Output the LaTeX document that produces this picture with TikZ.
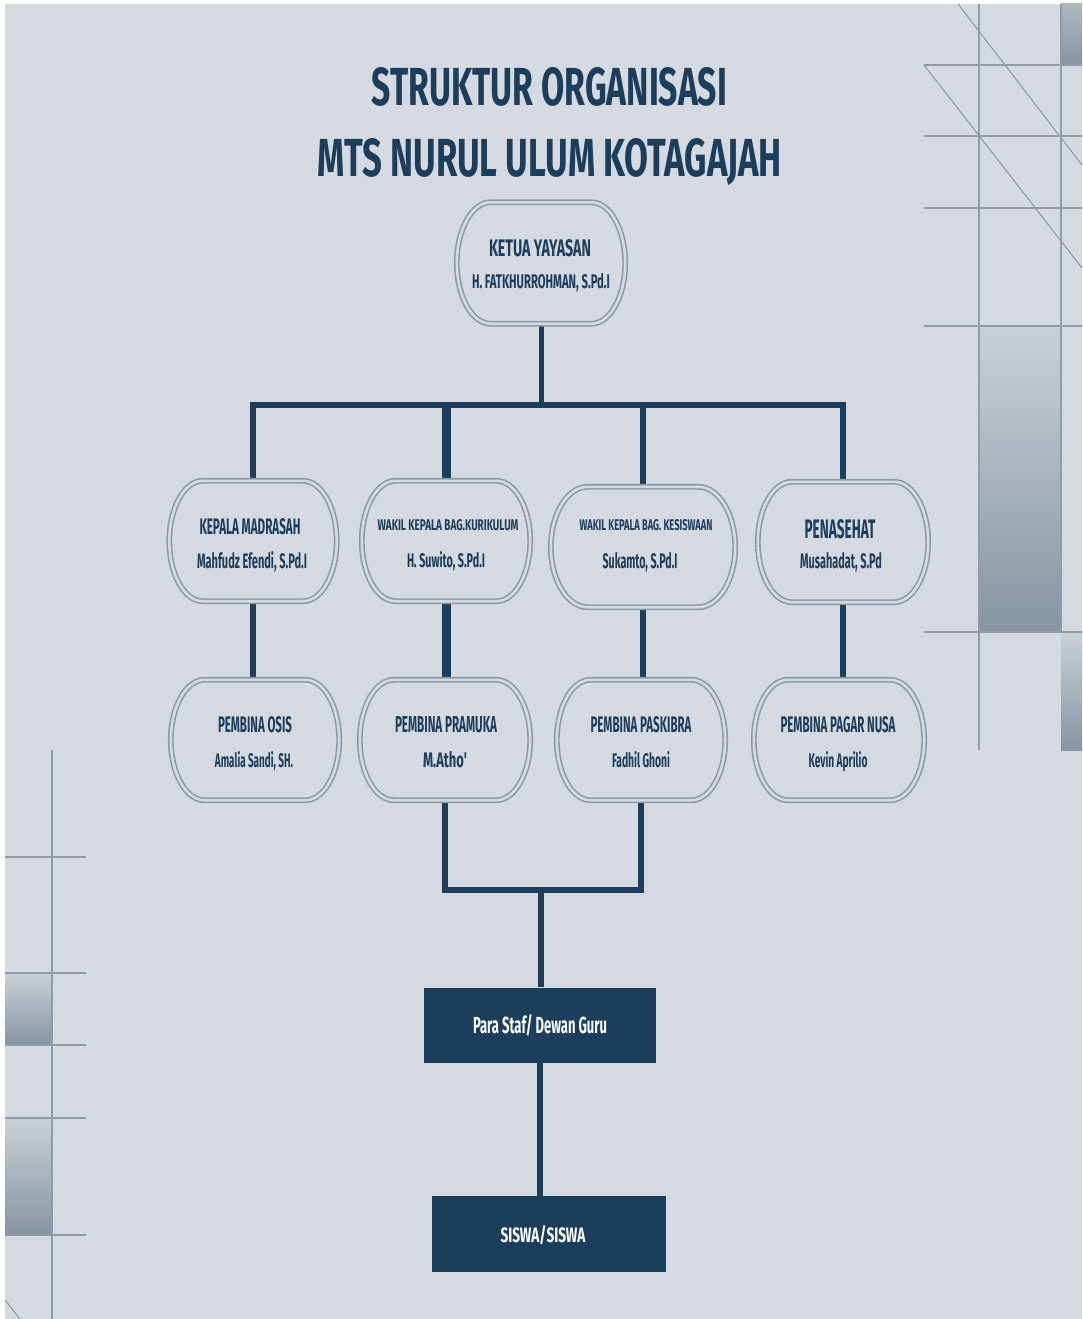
\documentclass[tikz,border=0pt]{standalone}
\usepackage{fontspec}
\setmainfont{Fira Sans}
\usetikzlibrary{calc}
\definecolor{bgc}{HTML}{D5DAE0}
\definecolor{navy}{HTML}{1B3E5D}
\definecolor{outc}{HTML}{8A9AA6}
\definecolor{decc}{HTML}{8F9CA7}
\definecolor{gradtop}{HTML}{CAD0D7}
\definecolor{gradbot}{HTML}{8595A2}
\newcommand\fitx[3]{\resizebox{#1pt}{#2pt}{\bfseries #3}}
\newcommand\stad[1]{%
  \filldraw[outl] ($(#1.north west)!0.2!(#1.north east)$) -- ($(#1.north west)!0.8!(#1.north east)$)
   .. controls ($(#1.north west)!0.91!(#1.north east)$) and ($(#1.east)!0.552!(#1.north east)$) .. (#1.east)
   .. controls ($(#1.east)!0.552!(#1.south east)$) and ($(#1.south west)!0.91!(#1.south east)$) .. ($(#1.south west)!0.8!(#1.south east)$)
   -- ($(#1.south west)!0.2!(#1.south east)$)
   .. controls ($(#1.south west)!0.09!(#1.south east)$) and ($(#1.west)!0.552!(#1.south west)$) .. (#1.west)
   .. controls ($(#1.west)!0.552!(#1.north west)$) and ($(#1.north west)!0.09!(#1.north east)$) .. cycle;}
\begin{document}
\begin{tikzpicture}[x=1pt,y=-1pt,
  box/.style={inner sep=0pt, draw=none, minimum height=120pt},
  outl/.style={draw=outc, line width=1.6pt, double=bgc, double distance=2.6pt, fill=bgc},
  conn/.style={draw=navy, line width=6pt},
  thickconn/.style={draw=navy, line width=9pt},
  txt/.style={inner sep=0pt, anchor=base, text=navy},
  wtxt/.style={inner sep=0pt, anchor=base, text=white},
  solid box/.style={inner sep=0pt, fill=navy, draw=none},
  dec/.style={draw=decc, line width=1.1pt},
  dech/.style={draw=decc, line width=2pt}]
\useasboundingbox (0,0) rectangle (1082,1319);
\fill[white] (0,0) rectangle (1082,1319);
\fill[bgc] (5,4) rectangle (1082,1319);
% decorations top right
\shade[top color=gradtop!60!gradbot, bottom color=gradbot] (1061,4) rectangle (1082,65);
\shade[top color=gradtop, bottom color=gradbot] (979,326) rectangle (1061,632);
\shade[top color=gradtop, bottom color=gradbot] (1061,632) rectangle (1082,750);
\draw[dec] (979,4) -- (979,750);
\draw[dec] (1061,4) -- (1061,632);
\foreach \yy in {65,136,208,326,632} \draw[dech] (924,\yy) -- (1082,\yy);
\draw[dec] (958,4) -- (1082,165);
\draw[dec] (924,65) -- (1082,268);
% decorations bottom left
\shade[top color=gradtop, bottom color=gradbot] (5,973) rectangle (52,1045);
\shade[top color=gradtop, bottom color=gradbot] (5,1118) rectangle (52,1235);
\draw[dec] (52,750) -- (52,1319);
\foreach \yy in {857,973,1045,1118,1235} \draw[dech] (5,\yy) -- (86,\yy);
\draw[dec] (5,1300) -- (20,1319);
% title
\node[txt] (t1) at (549.5,106) {\fitx{355}{38}{STRUKTUR ORGANISASI}};
\node[txt] (t2) at (550,176) {\fitx{464}{38}{MTS NURUL ULUM KOTAGAJAH}};
% shape nodes
\node[box, minimum width=168pt, minimum height=121pt] (top) at (541,263) {};
\node[box, minimum width=167pt] (A) at (253,541) {};
\node[box, minimum width=168pt] (B) at (446,541) {};
\node[box, minimum width=184pt] (C) at (643,547) {};
\node[box, minimum width=170pt] (D) at (843,542) {};
\node[box, minimum width=168pt] (E) at (255,740) {};
\node[box, minimum width=170pt] (F) at (445,740) {};
\node[box, minimum width=168pt] (G) at (641,740) {};
\node[box, minimum width=170pt] (H) at (839,740) {};
\node[solid box, minimum width=232pt, minimum height=75pt] (staf) at (540,1025) {};
\node[solid box, minimum width=234pt, minimum height=76pt] (siswa) at (549,1234) {};
\coordinate (bus) at (541,405);
\coordinate (j) at (541,890);
% connectors
\draw[conn, line width=5pt] (top.south) -- (top.south |- bus);
\draw[conn, line cap=rect] (A.north |- bus) -- (D.north |- bus);
\draw[conn] (A.north |- bus) -- (A.north);
\draw[thickconn] (B.north |- bus) -- (B.north);
\draw[conn] (C.north |- bus) -- (C.north);
\draw[conn] (D.north |- bus) -- (D.north);
\draw[conn] (A.south) -- (A.south |- E.north);
\draw[thickconn] (B.south) -- (B.south |- F.north);
\draw[conn] (C.south) -- (C.south |- G.north);
\draw[conn] (D.south) -- (D.south |- H.north);
\draw[conn, line cap=rect] (F.south) -- (F.south |- j) -- (G.south |- j) -- (G.south);
\draw[conn] (j) -- (j |- staf.north);
\draw[conn] (staf.south) -- (staf.south |- siswa.north);
% outlines
\foreach \n in {top,A,B,C,D,E,F,G,H} {\stad{\n}}
% texts
\node[txt] (topr) at (540,256) {\fitx{102}{17}{KETUA YAYASAN}};
\node[txt] (topn) at (541,288) {\fitx{138}{15}{H. FATKHURROHMAN, S.Pd.I}};
\node[txt] (Ar) at (250,534) {\fitx{101}{16}{KEPALA MADRASAH}};
\node[txt] (An) at (252,568) {\fitx{110}{17}{Mahfudz Efendi, S.Pd.I}};
\node[txt] (Br) at (448,530) {\fitx{141}{11}{WAKIL KEPALA BAG.KURIKULUM}};
\node[txt] (Bn) at (446,567) {\fitx{78}{16}{H. Suwito, S.Pd.I}};
\node[txt] (Cr) at (646,530) {\fitx{133}{11}{WAKIL KEPALA BAG. KESISWAAN}};
\node[txt] (Cn) at (640,568) {\fitx{75}{16}{Sukamto, S.Pd.I}};
\node[txt] (Dr) at (840,538) {\fitx{71}{19}{PENASEHAT}};
\node[txt] (Dn) at (841,568) {\fitx{82}{16}{Musahadat, S.Pd}};
\node[txt] (Er) at (255,732) {\fitx{74}{16}{PEMBINA OSIS}};
\node[txt] (En) at (254,767) {\fitx{78}{16}{Amalia Sandi, SH.}};
\node[txt] (Fr) at (446,732) {\fitx{102}{16}{PEMBINA PRAMUKA}};
\node[txt] (Fn) at (445,767) {\fitx{44}{16}{M.Atho\textquotesingle}};
\node[txt] (Gr) at (641,732) {\fitx{101}{16}{PEMBINA PASKIBRA}};
\node[txt] (Gn) at (641,767) {\fitx{58}{16}{Fadhil Ghoni}};
\node[txt] (Hr) at (838,732) {\fitx{115}{16}{PEMBINA PAGAR NUSA}};
\node[txt] (Hn) at (838,767) {\fitx{59}{16}{Kevin Aprilio}};
\node[wtxt] (stafT) at (540,1033) {\fitx{134}{19}{Para Staf/ Dewan Guru}};
\node[wtxt] (siswaT) at (543,1242) {\fitx{85}{17}{SISWA/SISWA}};
\end{tikzpicture}
\end{document}
